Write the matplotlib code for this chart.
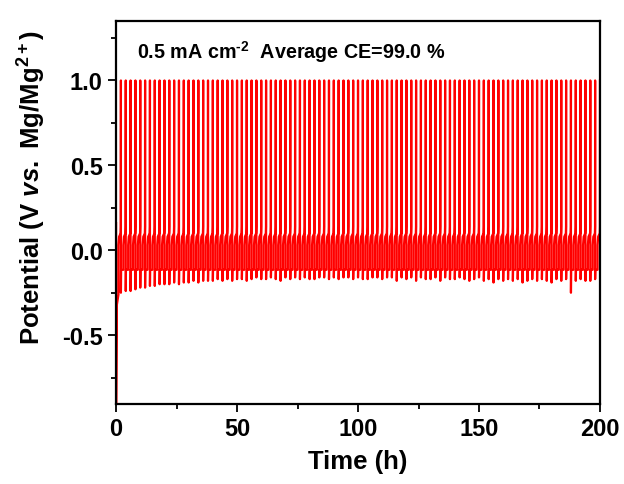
import numpy as np
import matplotlib
matplotlib.use('Agg')
import matplotlib.pyplot as plt

# 글꼴 (Arial 대신 Liberation Sans)
plt.rcParams['font.family'] = ['Liberation Sans', 'DejaVu Sans']
plt.rcParams['font.weight'] = 'bold'
plt.rcParams['axes.unicode_minus'] = False
plt.rcParams['mathtext.fontset'] = 'custom'
plt.rcParams['mathtext.rm'] = 'Liberation Sans:bold'
plt.rcParams['mathtext.bf'] = 'Liberation Sans:bold'
plt.rcParams['mathtext.it'] = 'Liberation Sans:italic:bold'

# 데이터
cycle_hours = 2.0            # 한 사이클 시간 (h)
n_cycles = 100
cutoff_v = 1.0               # 상한 전압
plate_v = -0.115             # 석출 구간 전위
strip_v = 0.08               # 용해 구간 전위
strip_end_v = 0.14           # cutoff 직전 전위
start_v = [0.16, -0.90, -0.32, -0.26]   # 첫 석출 구간
start_t = [0.0, 0.03, 0.35, 1.0]
# 사이클별 석출 시작 dip 전위
dip_v = [-0.26, -0.25, -0.24, -0.24, -0.23, -0.22, -0.22, -0.21, -0.21, -0.20,
         -0.20, -0.20, -0.19, -0.20, -0.19, -0.19, -0.18, -0.19, -0.18, -0.18,
         -0.18, -0.17, -0.18, -0.17, -0.18, -0.17, -0.17, -0.18, -0.17, -0.16,
         -0.17, -0.17, -0.16, -0.17, -0.18, -0.16, -0.17, -0.16, -0.17, -0.16,
         -0.17, -0.17, -0.16, -0.16, -0.17, -0.16, -0.17, -0.16, -0.16, -0.17,
         -0.16, -0.17, -0.17, -0.16, -0.16, -0.17, -0.16, -0.16, -0.18, -0.16,
         -0.17, -0.16, -0.18, -0.16, -0.17, -0.17, -0.16, -0.18, -0.16, -0.17,
         -0.17, -0.16, -0.17, -0.18, -0.17, -0.16, -0.18, -0.17, -0.19, -0.17,
         -0.18, -0.17, -0.18, -0.17, -0.19, -0.18, -0.17, -0.18, -0.17, -0.18,
         -0.19, -0.17, -0.18, -0.17, -0.25, -0.18, -0.17, -0.18, -0.18, -0.17]

# 전위-시간 곡선 조립
t = list(start_t)
v = list(start_v)
for i in range(n_cycles):
    t0 = i * cycle_hours
    if i > 0:
        t += [t0, t0 + 0.08]
        v += [dip_v[i], plate_v]
    t += [t0 + 1.0, t0 + 1.0, t0 + 1.25, t0 + 1.9, t0 + 1.97, t0 + 1.98, t0 + 2.0]
    v += [plate_v if i > 0 else start_v[-1], 0.03, strip_v, strip_v + 0.02,
          strip_end_v, cutoff_v, cutoff_v]

fig = plt.figure(figsize=(6.24, 4.85), dpi=100)
ax = fig.add_axes([0.186, 0.165, 0.7755, 0.7896])
ax.plot(t, v, color='#ff0000', lw=1.6)

ax.set_xlim(0, 200)
ax.set_ylim(-0.905, 1.35)
ax.set_xticks([0, 50, 100, 150, 200])
ax.set_xticks([25, 75, 125, 175], minor=True)
ax.set_yticks([-0.5, 0.0, 0.5, 1.0])
ax.set_yticks([-0.75, -0.25, 0.25, 0.75, 1.25], minor=True)
ax.tick_params(which='major', direction='out', length=6, width=1.3,
               labelsize=17, top=False, right=False)
ax.tick_params(which='minor', direction='out', length=3.5, width=1.3,
               top=False, right=False)
for s in ax.spines.values():
    s.set_linewidth(1.6)

ax.set_xlabel('Time (h)', fontsize=18.5, fontweight='bold', labelpad=6)
ax.set_ylabel(r'Potential (V $\mathit{vs.}$ Mg/Mg$^{\mathbf{2+}}$)',
              fontsize=18.5, fontweight='bold')
ax.yaxis.set_label_coords(-0.14, 0.567)
ax.text(0.043, 0.905, '0.5 mA cm$^{\\mathbf{\u20102}}$  Average CE=99.0 %',
        transform=ax.transAxes, fontsize=14.2, fontweight='bold')

fig.savefig('out.png', dpi=100)
